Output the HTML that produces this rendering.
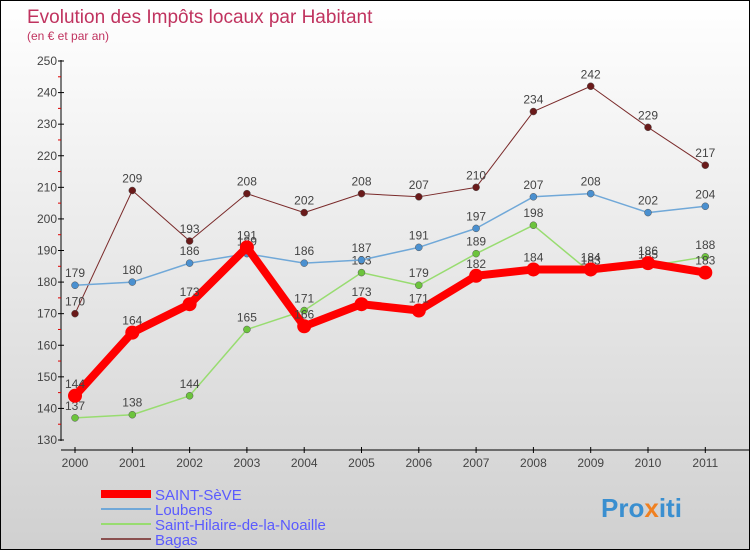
<!DOCTYPE html>
<html><head><meta charset="utf-8"><style>
body{margin:0}
#c{width:748px;height:548px;border:1px solid #000;background:linear-gradient(#fff,#d0d0d0);position:relative;font-family:"Liberation Sans",sans-serif}
</style></head><body>
<div id="c">
<svg id="s" width="748" height="548">
<text x="26" y="22" font-size="19" fill="#c0335f">Evolution des Impôts locaux par Habitant</text>
<text x="26" y="39" font-size="12" fill="#c0335f">(en € et par an)</text>
<g id="g"></g>
<text x="600" y="516" font-size="26" font-weight="bold" fill="#3a8fd0">Pro<tspan fill="#f08020">x</tspan>iti</text>
</svg></div>
<script>
const years=["2000","2001","2002","2003","2004","2005","2006","2007","2008","2009","2010","2011"];
const yTicks=[130,140,150,160,170,180,190,200,210,220,230,240,250];
const saintSeve=[144,164,173,191,166,173,171,182,184,184,186,183];
const loubens=[179,180,186,189,186,187,191,197,207,208,202,204];
const saintHilaire=[137,138,144,165,171,183,179,189,198,183,185,188];
const bagas=[170,209,193,208,202,208,207,210,234,242,229,217];
const names=["SAINT-SèVE","Loubens","Saint-Hilaire-de-la-Noaille","Bagas"];
const NS="http://www.w3.org/2000/svg",g=document.getElementById('g');
const X=i=>74+i*57.3, Y=v=>439-(v-130)*(379/120);
function el(t,a,p){const e=document.createElementNS(NS,t);for(const k in a)e.setAttribute(k,a[k]);(p||g).appendChild(e);return e;}
let ax=el('line',{x1:60,y1:59,x2:60,y2:440,stroke:'#000'});


let bx=el('line',{x1:60,y1:449,x2:748,y2:449,stroke:'#000'});


yTicks.forEach((v,i)=>{el('line',{x1:57,x2:63,y1:Y(v),y2:Y(v),stroke:'#000'});
 if(i<yTicks.length-1)el('line',{x1:57,x2:60,y1:Y(v+5),y2:Y(v+5),stroke:'#d00'});
 const t=el('text',{x:56,y:Y(v)+4,'font-size':12,'text-anchor':'end',fill:'#444'});t.textContent=v;
 
 });
years.forEach((y,i)=>{el('line',{x1:X(i),x2:X(i),y1:446,y2:452,stroke:'#000'});
 const t=el('text',{x:X(i),y:466,'font-size':12,'text-anchor':'middle',fill:'#444'});t.textContent=y;
 
 });
const series=[[bagas,'#7a2a2a','#6a1a1a',1,3.5,'bagas'],[saintHilaire,'#98dc70','#6cc43c',1.5,3.5,'saint-hilaire'],[loubens,'#70a8d8','#4a90d0',1.5,3.5,'loubens'],[saintSeve,'#f00','#f00',8,7,'saint-seve']];
series.forEach(([d,c,pc,w,r,n])=>{
 const p=el('polyline',{points:d.map((v,i)=>X(i)+','+Y(v)).join(' '),fill:'none',stroke:c,'stroke-width':w,'stroke-linejoin':'round'});
 
 
 d.forEach((v,i)=>{const m=el('circle',{cx:X(i),cy:Y(v),r:r,fill:pc,stroke:w>2?'none':'#555','stroke-width':0.5});
  
  
  const t=el('text',{x:X(i),y:Y(v)-8,'font-size':12,'text-anchor':'middle',fill:'#444'});t.textContent=v;
  
  });
});
const lc=['#f00','#70a8d8','#98dc70','#8a5050'],lw=[8,2,2,2];
names.forEach((n,i)=>{const y=493+i*15;
 el('line',{x1:100,x2:150,y1:y,y2:y,stroke:lc[i],'stroke-width':lw[i]});
 const t=el('text',{x:154,y:y+6,'font-size':15,fill:'#5a5aff'});t.textContent=n;
 
 });
</script></body></html>
